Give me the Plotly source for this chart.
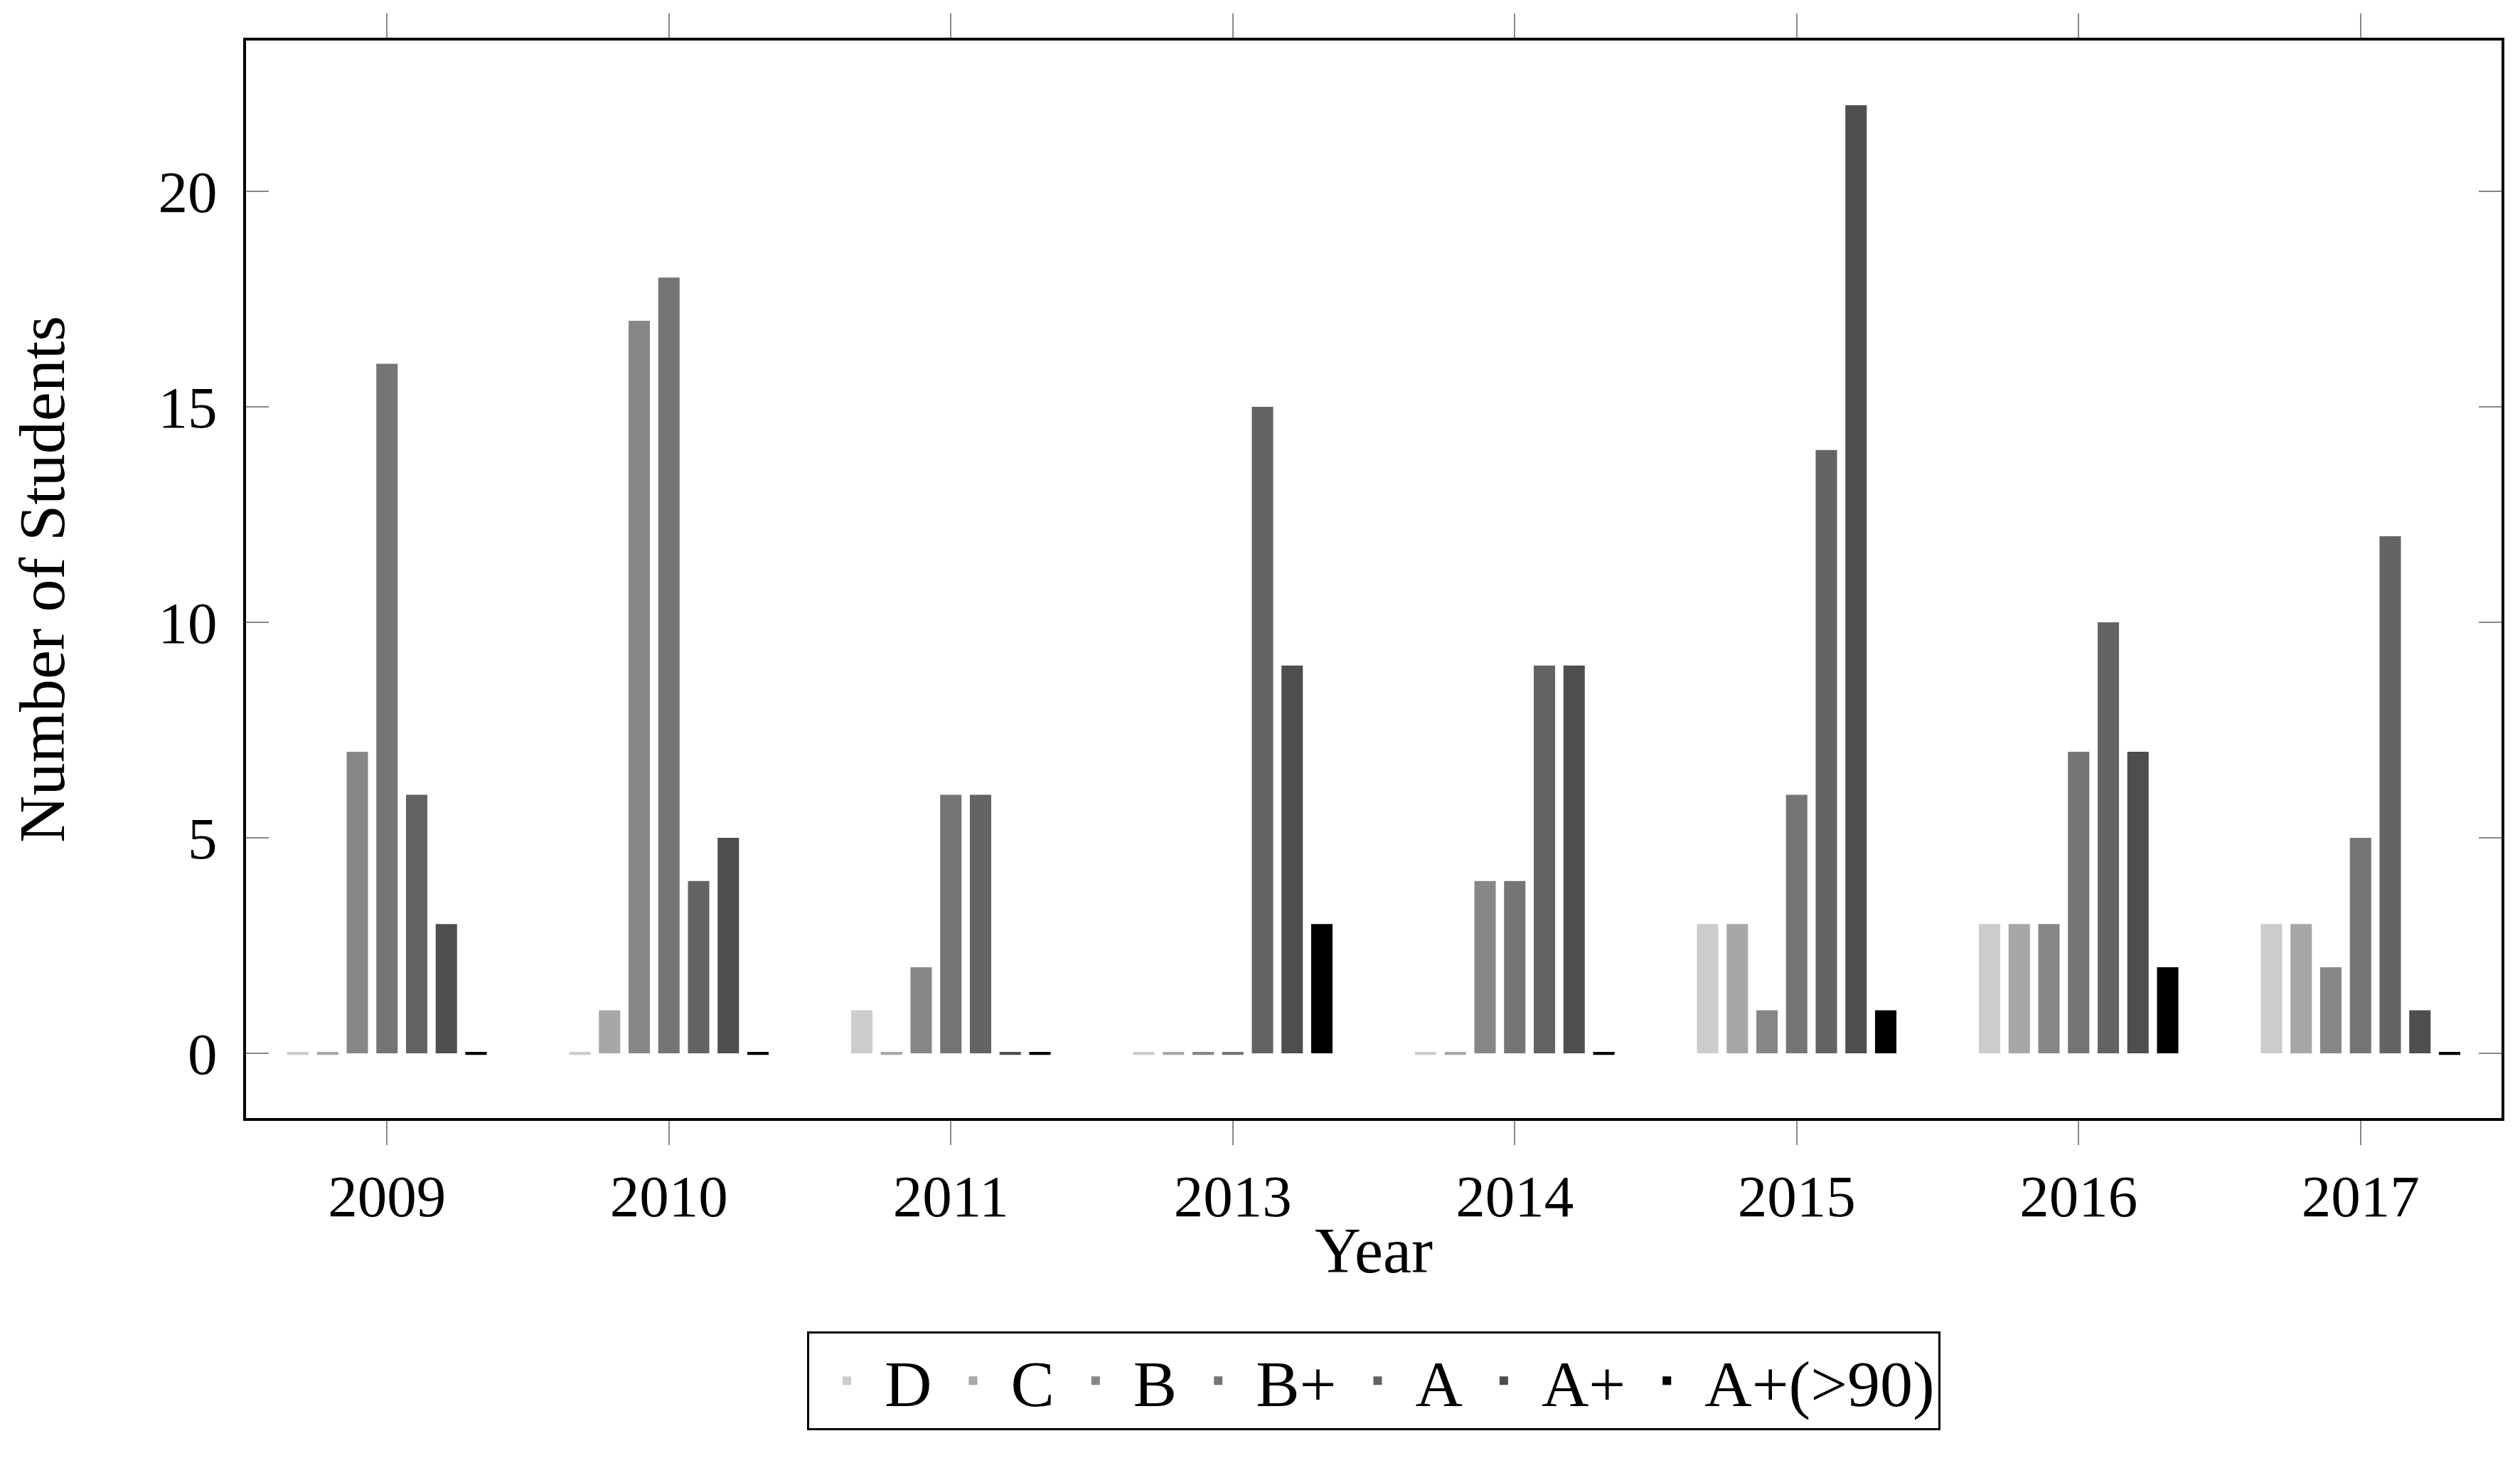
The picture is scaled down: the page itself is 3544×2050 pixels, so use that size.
import plotly.graph_objects as go

years = ["2009", "2010", "2011", "2013", "2014", "2015", "2016", "2017"]
grades = ["D", "C", "B", "B+", "A", "A+", "A+(>90)"]

d_vals = [0, 0, 1, 0, 0, 3, 3, 3]
c_vals = [0, 1, 0, 0, 0, 3, 3, 3]
b_vals = [7, 17, 2, 0, 4, 1, 3, 2]
bplus_vals = [16, 18, 6, 0, 4, 6, 7, 5]
a_vals = [6, 4, 6, 15, 9, 14, 10, 12]
aplus_vals = [3, 5, 0, 9, 9, 22, 7, 1]
a90_vals = [0, 0, 0, 3, 0, 1, 2, 0]

series = [d_vals, c_vals, b_vals, bplus_vals, a_vals, aplus_vals, a90_vals]
colors = ["#cccccc", "#a7a7a7", "#878787", "#757575", "#636363", "#4e4e4e", "#000000"]

FONT = "Liberation Serif"
ZERO_H = 0.07  # visual thickness of a zero-height bar outline

fig = go.Figure()
for name, vals, col in zip(grades, series, colors):
    fig.add_trace(go.Bar(
        x=years, y=vals, name=name, offsetgroup=name,
        marker=dict(color=col, line=dict(width=0)),
    ))
    # zero-valued bars are drawn as a thin outline in the original
    zy = [ZERO_H if v == 0 else None for v in vals]
    fig.add_trace(go.Bar(
        x=years, y=zy, base=-ZERO_H / 2, offsetgroup=name, showlegend=False,
        marker=dict(color=col, line=dict(width=0)), hoverinfo="skip",
    ))

fig.update_layout(
    width=3544, height=2050,
    margin=dict(l=338, r=34, t=49, b=486),
    paper_bgcolor="white", plot_bgcolor="white",
    barmode="group", bargap=0.263, bargroupgap=0.28,
    font=dict(family=FONT, size=83, color="black"),
    showlegend=True,
    legend=dict(
        orientation="h", x=0.5, xanchor="center", y=-0.198, yanchor="top",
        bordercolor="black", borderwidth=3, bgcolor="white",
        font=dict(family=FONT, size=92), traceorder="normal",
        itemwidth=96,
    ),
)

fig.update_xaxes(
    type="category", range=[-0.5, 7.5],
    showline=True, linecolor="black", linewidth=4, mirror="ticks",
    ticks="outside", ticklen=34, tickwidth=2, tickcolor="#888888",
    showgrid=False, zeroline=False,
    tickfont=dict(family=FONT, size=83),
    title=dict(text="Year", font=dict(family=FONT, size=90), standoff=0),
)
fig.update_yaxes(
    range=[-1.5, 23.5], tickvals=[0, 5, 10, 15, 20],
    showline=True, linecolor="black", linewidth=4, mirror="ticks",
    ticks="inside", ticklen=32, tickwidth=2, tickcolor="#888888",
    showgrid=False, zeroline=False,
    tickfont=dict(family=FONT, size=83), ticklabelstandoff=20,
    title=dict(text="Number of Students", font=dict(family=FONT, size=92), standoff=110),
)

fig.write_html("out.html")
